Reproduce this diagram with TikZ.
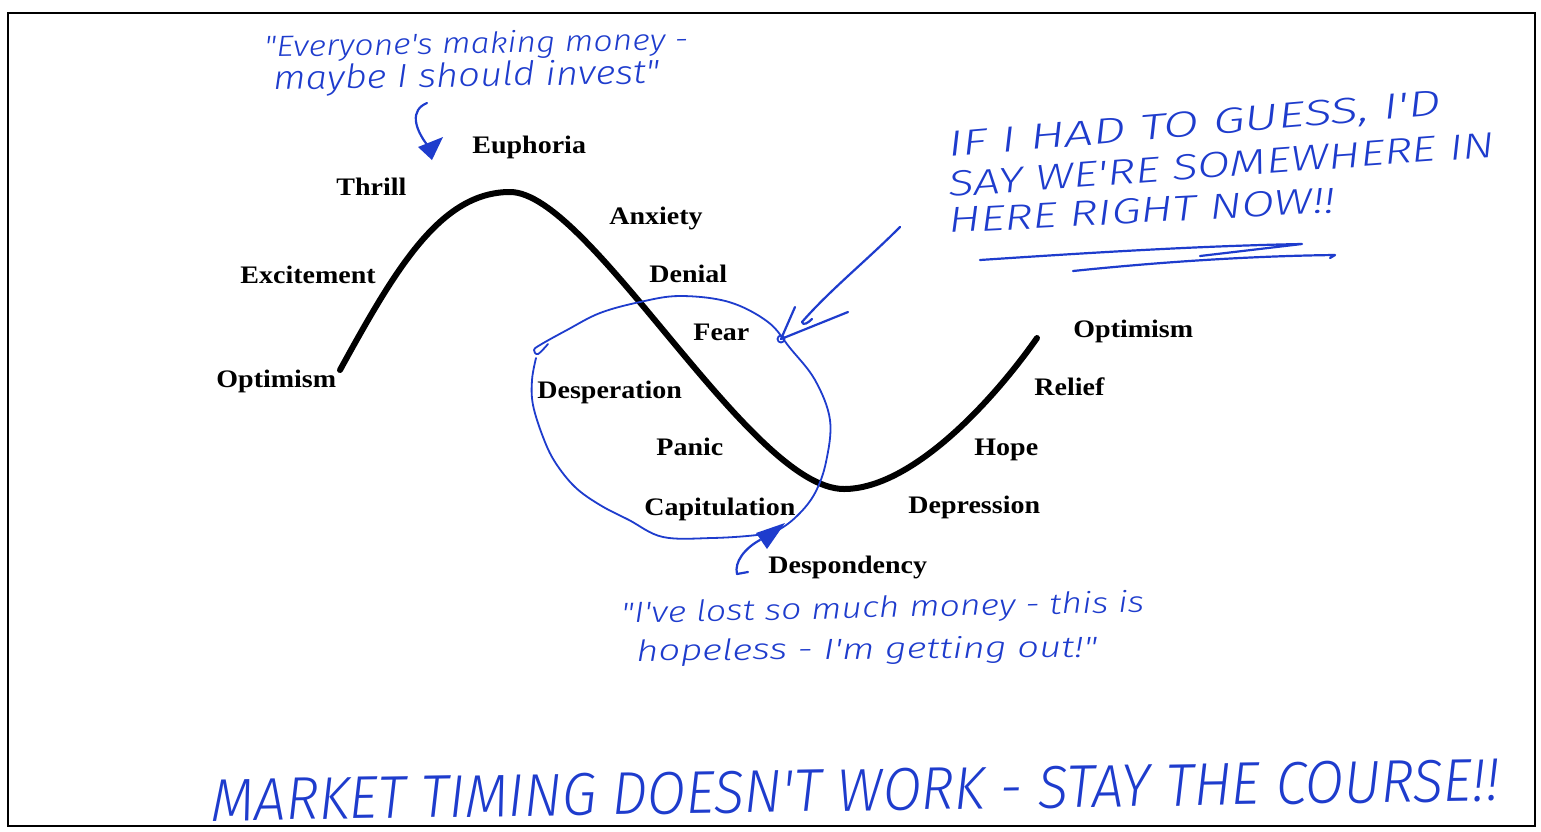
\documentclass[tikz,border=0pt]{standalone}
\usepackage{fontspec}
\setmainfont{Liberation Serif}
\newfontfamily\hand{Fira Sans Light Italic}
\definecolor{ink}{RGB}{30,60,205}
% handwritten line fitted to a given width and height
\newcommand\hw[3]{\resizebox{#1}{#2}{\hand #3}}
\begin{document}
\begin{tikzpicture}[x=0.5pt,y=-0.5pt,
  stage/.style={anchor=base west, inner sep=0pt, font=\fontsize{14}{16}\selectfont\bfseries},
  note/.style={anchor=base west, inner sep=0pt, text=ink},
  pen/.style={draw=ink, line width=1.1pt, line cap=round, line join=round},
  loop/.style={draw=ink, line width=0.9pt, line cap=round},
  ]
\useasboundingbox (0,0) rectangle (1541,831);
\fill[white] (0,0) rectangle (1541,831);
\draw[line width=1pt] (8,13) rectangle (1535,826);

% the market cycle curve
\coordinate (c0) at (340,370);
\coordinate (peak) at (510,192);
\coordinate (trough) at (844,489);
\coordinate (c3) at (1037,338);
\draw[line width=3pt, line cap=round]
  (c0) .. controls (395,270) and (440,192) .. (peak)
       .. controls (590,192) and (750,489) .. (trough)
       .. controls (910,489) and (990,405) .. (c3);

% stage labels
\def\st#1{\scalebox{1}[0.9]{#1}}
\node[stage] (euph)  at (472,153) {\st{Euphoria}};
\node[stage] (thr)   at (336,195) {\st{Thrill}};
\node[stage] (anx)   at (609,224) {\st{Anxiety}};
\node[stage] (exc)   at (240,283) {\st{Excitement}};
\node[stage] (den)   at (649,282) {\st{Denial}};
\node[stage] (fear)  at (693,340) {\st{Fear}};
\node[stage] (opt1)  at (216,387) {\st{Optimism}};
\node[stage] (desp)  at (537,398) {\st{Desperation}};
\node[stage] (pan)   at (656,455) {\st{Panic}};
\node[stage] (cap)   at (644,515) {\st{Capitulation}};
\node[stage] (dpd)   at (768,573) {\st{Despondency}};
\node[stage] (opt2)  at (1073,337) {\st{Optimism}};
\node[stage] (rel)   at (1034,395) {\st{Relief}};
\node[stage] (hope)  at (974,455) {\st{Hope}};
\node[stage] (depr)  at (908,513) {\st{Depression}};

% handwritten notes
\node[note, rotate=1] (q1a) at (264,57) {\hw{212pt}{11pt}{"Everyone's making money -}};
\node[note, rotate=1] (q1b) at (273,90) {\hw{193pt}{12.5pt}{maybe I should invest"}};
\node[note, rotate=4.9] (g1) at (949,157) {\hw{247pt}{12.5pt}{IF I HAD TO GUESS, I'D}};
\node[note, rotate=4.2] (g2) at (949,197) {\hw{273.5pt}{12.5pt}{SAY WE'RE SOMEWHERE IN}};
\node[note, rotate=3] (g3) at (949,233) {\hw{193.5pt}{12.5pt}{HERE RIGHT NOW!!}};
\node[note, rotate=1.2] (q2a) at (621,623) {\hw{261.5pt}{11pt}{"I've lost so much money - this is}};
\node[note, rotate=0.5] (q2b) at (636,661) {\hw{230.5pt}{11pt}{hopeless - I'm getting out!"}};
\node[note, rotate=0.9] (tag) at (211,821) {\hw{644pt}{21pt}{MARKET TIMING DOESN'T WORK - STAY THE COURSE!!}};

% circle round the falling part
\draw[loop] plot[smooth, tension=0.6] coordinates {
  (548,344) (538,354) (534,350) (540,345) (567,330) (600,313) (640,302)
  (680,296) (729,302) (768,322) (790,348) (815,380) (830,420) (826,462)
  (815,493) (798,515) (778,530) (757,535) (712,538) (663,537) (629,520)
  (600,505) (575,487) (555,462) (543,437) (533,405) (532,380) (536,358)};

% arrow to Euphoria
\coordinate (a1s) at (427,103);
\coordinate (a1e) at (428,146);
\draw[pen] (a1s) .. controls (410,110) and (414,128) .. (a1e);
\fill[ink] (418,147) -- (443,137) -- (432,160) -- cycle;

% arrow to Capitulation
\coordinate (a2s) at (748,572);
\coordinate (a2e) at (760,540);
\draw[pen] (a2s) -- (737,574) .. controls (734,562) and (745,548) .. (a2e);
\fill[ink] (756,533) -- (785,523) -- (767,549) -- cycle;

% arrow into the circle
\coordinate (a3s) at (900,227);
\coordinate (a3e) at (802,322);
\coordinate (a3t) at (781,339);
\draw[pen] (a3s) .. controls (865,262) and (830,290) .. (a3e)
  .. controls (803,326) and (808,323) .. (812,319);
\draw[pen] (795,307) -- (a3t) -- (848,312);
\draw[loop] (a3t) circle[radius=3.5];

% underline
\draw[pen] (980,260) .. controls (1100,252) and (1200,246) .. (1302,244) -- (1200,256);
\draw[pen] (1073,271) .. controls (1160,262) and (1250,256) .. (1335,255) -- (1330,258);
\end{tikzpicture}
\end{document}
